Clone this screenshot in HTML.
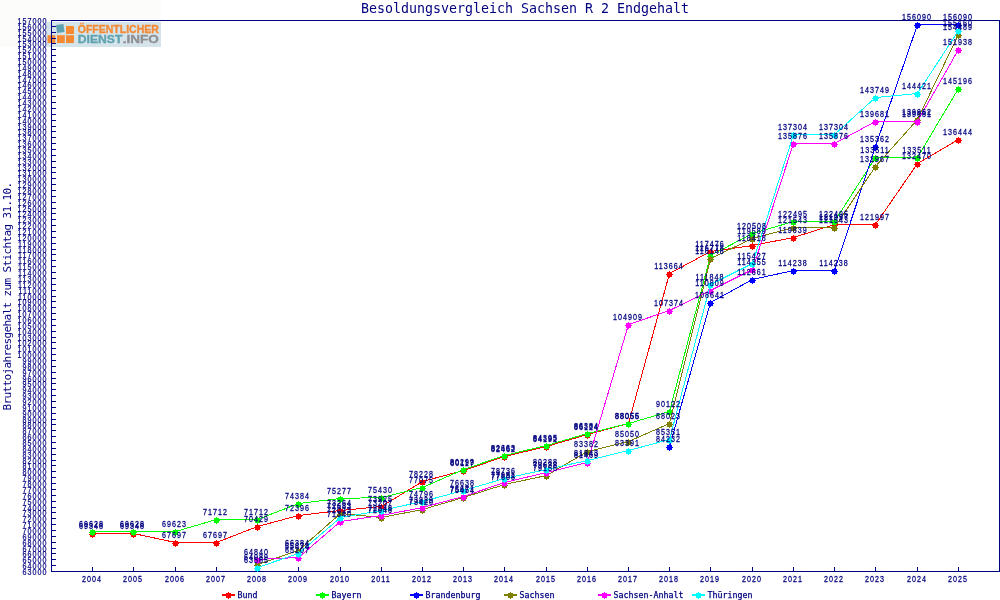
<!DOCTYPE html>
<html lang="de"><head><meta charset="utf-8"><title>Besoldungsvergleich Sachsen R 2 Endgehalt</title>
<style>
html,body{margin:0;padding:0;background:#fff;}
body{width:1000px;height:600px;overflow:hidden;}
svg{display:block;}
text{font-family:"DejaVu Sans Mono","Liberation Mono",monospace;fill:#000080;}
.t{font-family:"Liberation Sans","DejaVu Sans",sans-serif;font-size:8.4px;letter-spacing:1.21px;stroke:#000080;stroke-width:0.2px;}
.ya{text-anchor:end;}
.m{stroke-width:0.26px;}
.lg{font-size:8.3px;stroke:#000080;stroke-width:0.25px;}
.m{text-anchor:middle;}
.title{font-size:13.3px;text-anchor:middle;}
.ytitle{font-size:11px;letter-spacing:-0.62px;text-anchor:middle;}
.logo{font-family:"Liberation Sans","DejaVu Sans",sans-serif;font-weight:bold;font-size:10px;stroke-width:0.3px;}
.ln{fill:none;stroke-width:1;shape-rendering:crispEdges;}
.ax{stroke:#000080;stroke-width:1;shape-rendering:crispEdges;fill:none;}
.mk{shape-rendering:crispEdges;}
</style></head><body>
<svg width="1000" height="600" viewBox="0 0 1000 600">
<defs><g id="mk"><rect x="-2.5" y="-2.5" width="5" height="5"/><rect x="-3.5" y="-0.5" width="7" height="1"/><rect x="-0.5" y="-3.5" width="1" height="7"/></g>
</defs>
<rect x="0" y="0" width="1000" height="600" fill="#ffffff"/>
<text class="title" x="525" y="13">Besoldungsvergleich Sachsen R 2 Endgehalt</text>
<rect x="0" y="0" width="161" height="47" fill="#fcfdfa"/>
<g id="logo">
<rect x="46" y="22" width="115" height="25" fill="#d5e3ea"/>
<rect x="56.5" y="24.5" width="7.5" height="8" fill="#5fa3b0" transform="rotate(-8 60 28.5)"/>
<rect x="66" y="26" width="8" height="8" fill="#f58a33"/>
<rect x="47.5" y="35.2" width="7.8" height="7.8" fill="#f58a33"/>
<rect x="57" y="35.2" width="7.8" height="7.8" fill="#f58a33"/>
<rect x="66" y="35.2" width="8" height="7.8" fill="#f58a33"/>
<text class="logo" x="77.8" y="33.4" textLength="81" lengthAdjust="spacingAndGlyphs" style="fill:#f58a33;stroke:#f58a33">ÖFFENTLICHER</text>
<text class="logo" x="77.8" y="43.1" textLength="44.5" lengthAdjust="spacingAndGlyphs" style="fill:#5fa3b0;stroke:#5fa3b0">DIENST</text>
<text class="logo" x="122.8" y="43.1" textLength="36" lengthAdjust="spacingAndGlyphs" style="fill:#8f9094;stroke:#8f9094">.INFO</text>
</g>
<text class="ytitle" transform="translate(10.9 296.5) rotate(-90)">Bruttojahresgehalt zum Stichtag 31.10.</text>
<path class="ax" d="M51.5 20.5H999.5V571.5H51.5Z"/>
<path class="ax" d="M52 571.5H56M52 565.5H56M52 559.5H56M52 553.5H56M52 548.5H56M52 542.5H56M52 536.5H56M52 530.5H56M52 524.5H56M52 518.5H56M52 512.5H56M52 507.5H56M52 501.5H56M52 495.5H56M52 489.5H56M52 483.5H56M52 477.5H56M52 471.5H56M52 465.5H56M52 460.5H56M52 454.5H56M52 448.5H56M52 442.5H56M52 436.5H56M52 430.5H56M52 424.5H56M52 419.5H56M52 413.5H56M52 407.5H56M52 401.5H56M52 395.5H56M52 389.5H56M52 383.5H56M52 378.5H56M52 372.5H56M52 366.5H56M52 360.5H56M52 354.5H56M52 348.5H56M52 342.5H56M52 337.5H56M52 331.5H56M52 325.5H56M52 319.5H56M52 313.5H56M52 307.5H56M52 301.5H56M52 296.5H56M52 290.5H56M52 284.5H56M52 278.5H56M52 272.5H56M52 266.5H56M52 260.5H56M52 254.5H56M52 249.5H56M52 243.5H56M52 237.5H56M52 231.5H56M52 225.5H56M52 219.5H56M52 213.5H56M52 208.5H56M52 202.5H56M52 196.5H56M52 190.5H56M52 184.5H56M52 178.5H56M52 172.5H56M52 167.5H56M52 161.5H56M52 155.5H56M52 149.5H56M52 143.5H56M52 137.5H56M52 131.5H56M52 126.5H56M52 120.5H56M52 114.5H56M52 108.5H56M52 102.5H56M52 96.5H56M52 90.5H56M52 84.5H56M52 79.5H56M52 73.5H56M52 67.5H56M52 61.5H56M52 55.5H56M52 49.5H56M52 43.5H56M52 38.5H56M52 32.5H56M52 26.5H56M52 20.5H56"/>
<g id="ylabels">
<text class="t ya" transform="translate(47.50 23.5) scale(0.85 1)">157000</text>
<text class="t ya" transform="translate(47.50 29.5) scale(0.85 1)">156000</text>
<text class="t ya" transform="translate(47.50 35.5) scale(0.85 1)">155000</text>
<text class="t ya" transform="translate(47.50 41.5) scale(0.85 1)">154000</text>
<text class="t ya" transform="translate(47.50 46.5) scale(0.85 1)">153000</text>
<text class="t ya" transform="translate(47.50 52.5) scale(0.85 1)">152000</text>
<text class="t ya" transform="translate(47.50 58.5) scale(0.85 1)">151000</text>
<text class="t ya" transform="translate(47.50 64.5) scale(0.85 1)">150000</text>
<text class="t ya" transform="translate(47.50 70.5) scale(0.85 1)">149000</text>
<text class="t ya" transform="translate(47.50 76.5) scale(0.85 1)">148000</text>
<text class="t ya" transform="translate(47.50 82.5) scale(0.85 1)">147000</text>
<text class="t ya" transform="translate(47.50 87.5) scale(0.85 1)">146000</text>
<text class="t ya" transform="translate(47.50 93.5) scale(0.85 1)">145000</text>
<text class="t ya" transform="translate(47.50 99.5) scale(0.85 1)">144000</text>
<text class="t ya" transform="translate(47.50 105.5) scale(0.85 1)">143000</text>
<text class="t ya" transform="translate(47.50 111.5) scale(0.85 1)">142000</text>
<text class="t ya" transform="translate(47.50 117.5) scale(0.85 1)">141000</text>
<text class="t ya" transform="translate(47.50 123.5) scale(0.85 1)">140000</text>
<text class="t ya" transform="translate(47.50 129.5) scale(0.85 1)">139000</text>
<text class="t ya" transform="translate(47.50 134.5) scale(0.85 1)">138000</text>
<text class="t ya" transform="translate(47.50 140.5) scale(0.85 1)">137000</text>
<text class="t ya" transform="translate(47.50 146.5) scale(0.85 1)">136000</text>
<text class="t ya" transform="translate(47.50 152.5) scale(0.85 1)">135000</text>
<text class="t ya" transform="translate(47.50 158.5) scale(0.85 1)">134000</text>
<text class="t ya" transform="translate(47.50 164.5) scale(0.85 1)">133000</text>
<text class="t ya" transform="translate(47.50 170.5) scale(0.85 1)">132000</text>
<text class="t ya" transform="translate(47.50 175.5) scale(0.85 1)">131000</text>
<text class="t ya" transform="translate(47.50 181.5) scale(0.85 1)">130000</text>
<text class="t ya" transform="translate(47.50 187.5) scale(0.85 1)">129000</text>
<text class="t ya" transform="translate(47.50 193.5) scale(0.85 1)">128000</text>
<text class="t ya" transform="translate(47.50 199.5) scale(0.85 1)">127000</text>
<text class="t ya" transform="translate(47.50 205.5) scale(0.85 1)">126000</text>
<text class="t ya" transform="translate(47.50 211.5) scale(0.85 1)">125000</text>
<text class="t ya" transform="translate(47.50 216.5) scale(0.85 1)">124000</text>
<text class="t ya" transform="translate(47.50 222.5) scale(0.85 1)">123000</text>
<text class="t ya" transform="translate(47.50 228.5) scale(0.85 1)">122000</text>
<text class="t ya" transform="translate(47.50 234.5) scale(0.85 1)">121000</text>
<text class="t ya" transform="translate(47.50 240.5) scale(0.85 1)">120000</text>
<text class="t ya" transform="translate(47.50 246.5) scale(0.85 1)">119000</text>
<text class="t ya" transform="translate(47.50 252.5) scale(0.85 1)">118000</text>
<text class="t ya" transform="translate(47.50 257.5) scale(0.85 1)">117000</text>
<text class="t ya" transform="translate(47.50 263.5) scale(0.85 1)">116000</text>
<text class="t ya" transform="translate(47.50 269.5) scale(0.85 1)">115000</text>
<text class="t ya" transform="translate(47.50 275.5) scale(0.85 1)">114000</text>
<text class="t ya" transform="translate(47.50 281.5) scale(0.85 1)">113000</text>
<text class="t ya" transform="translate(47.50 287.5) scale(0.85 1)">112000</text>
<text class="t ya" transform="translate(47.50 293.5) scale(0.85 1)">111000</text>
<text class="t ya" transform="translate(47.50 299.5) scale(0.85 1)">110000</text>
<text class="t ya" transform="translate(47.50 304.5) scale(0.85 1)">109000</text>
<text class="t ya" transform="translate(47.50 310.5) scale(0.85 1)">108000</text>
<text class="t ya" transform="translate(47.50 316.5) scale(0.85 1)">107000</text>
<text class="t ya" transform="translate(47.50 322.5) scale(0.85 1)">106000</text>
<text class="t ya" transform="translate(47.50 328.5) scale(0.85 1)">105000</text>
<text class="t ya" transform="translate(47.50 334.5) scale(0.85 1)">104000</text>
<text class="t ya" transform="translate(47.50 340.5) scale(0.85 1)">103000</text>
<text class="t ya" transform="translate(47.50 345.5) scale(0.85 1)">102000</text>
<text class="t ya" transform="translate(47.50 351.5) scale(0.85 1)">101000</text>
<text class="t ya" transform="translate(47.50 357.5) scale(0.85 1)">100000</text>
<text class="t ya" transform="translate(47.50 363.5) scale(0.85 1)">99000</text>
<text class="t ya" transform="translate(47.50 369.5) scale(0.85 1)">98000</text>
<text class="t ya" transform="translate(47.50 375.5) scale(0.85 1)">97000</text>
<text class="t ya" transform="translate(47.50 381.5) scale(0.85 1)">96000</text>
<text class="t ya" transform="translate(47.50 386.5) scale(0.85 1)">95000</text>
<text class="t ya" transform="translate(47.50 392.5) scale(0.85 1)">94000</text>
<text class="t ya" transform="translate(47.50 398.5) scale(0.85 1)">93000</text>
<text class="t ya" transform="translate(47.50 404.5) scale(0.85 1)">92000</text>
<text class="t ya" transform="translate(47.50 410.5) scale(0.85 1)">91000</text>
<text class="t ya" transform="translate(47.50 416.5) scale(0.85 1)">90000</text>
<text class="t ya" transform="translate(47.50 422.5) scale(0.85 1)">89000</text>
<text class="t ya" transform="translate(47.50 427.5) scale(0.85 1)">88000</text>
<text class="t ya" transform="translate(47.50 433.5) scale(0.85 1)">87000</text>
<text class="t ya" transform="translate(47.50 439.5) scale(0.85 1)">86000</text>
<text class="t ya" transform="translate(47.50 445.5) scale(0.85 1)">85000</text>
<text class="t ya" transform="translate(47.50 451.5) scale(0.85 1)">84000</text>
<text class="t ya" transform="translate(47.50 457.5) scale(0.85 1)">83000</text>
<text class="t ya" transform="translate(47.50 463.5) scale(0.85 1)">82000</text>
<text class="t ya" transform="translate(47.50 468.5) scale(0.85 1)">81000</text>
<text class="t ya" transform="translate(47.50 474.5) scale(0.85 1)">80000</text>
<text class="t ya" transform="translate(47.50 480.5) scale(0.85 1)">79000</text>
<text class="t ya" transform="translate(47.50 486.5) scale(0.85 1)">78000</text>
<text class="t ya" transform="translate(47.50 492.5) scale(0.85 1)">77000</text>
<text class="t ya" transform="translate(47.50 498.5) scale(0.85 1)">76000</text>
<text class="t ya" transform="translate(47.50 504.5) scale(0.85 1)">75000</text>
<text class="t ya" transform="translate(47.50 510.5) scale(0.85 1)">74000</text>
<text class="t ya" transform="translate(47.50 515.5) scale(0.85 1)">73000</text>
<text class="t ya" transform="translate(47.50 521.5) scale(0.85 1)">72000</text>
<text class="t ya" transform="translate(47.50 527.5) scale(0.85 1)">71000</text>
<text class="t ya" transform="translate(47.50 533.5) scale(0.85 1)">70000</text>
<text class="t ya" transform="translate(47.50 539.5) scale(0.85 1)">69000</text>
<text class="t ya" transform="translate(47.50 545.5) scale(0.85 1)">68000</text>
<text class="t ya" transform="translate(47.50 551.5) scale(0.85 1)">67000</text>
<text class="t ya" transform="translate(47.50 556.5) scale(0.85 1)">66000</text>
<text class="t ya" transform="translate(47.50 562.5) scale(0.85 1)">65000</text>
<text class="t ya" transform="translate(47.50 568.5) scale(0.85 1)">64000</text>
<text class="t ya" transform="translate(47.50 574.5) scale(0.85 1)">63000</text>
</g>
<path class="ax" d="M92.5 567V571M133.5 567V571M175.5 567V571M216.5 567V571M257.5 567V571M298.5 567V571M340.5 567V571M381.5 567V571M422.5 567V571M463.5 567V571M504.5 567V571M546.5 567V571M587.5 567V571M628.5 567V571M669.5 567V571M710.5 567V571M752.5 567V571M793.5 567V571M834.5 567V571M875.5 567V571M917.5 567V571M958.5 567V571"/>
<g id="xlabels">
<text class="t m" transform="translate(92.00 582.2) scale(0.85 1)">2004</text>
<text class="t m" transform="translate(133.00 582.2) scale(0.85 1)">2005</text>
<text class="t m" transform="translate(175.00 582.2) scale(0.85 1)">2006</text>
<text class="t m" transform="translate(216.00 582.2) scale(0.85 1)">2007</text>
<text class="t m" transform="translate(257.00 582.2) scale(0.85 1)">2008</text>
<text class="t m" transform="translate(298.00 582.2) scale(0.85 1)">2009</text>
<text class="t m" transform="translate(340.00 582.2) scale(0.85 1)">2010</text>
<text class="t m" transform="translate(381.00 582.2) scale(0.85 1)">2011</text>
<text class="t m" transform="translate(422.00 582.2) scale(0.85 1)">2012</text>
<text class="t m" transform="translate(463.00 582.2) scale(0.85 1)">2013</text>
<text class="t m" transform="translate(504.00 582.2) scale(0.85 1)">2014</text>
<text class="t m" transform="translate(546.00 582.2) scale(0.85 1)">2015</text>
<text class="t m" transform="translate(587.00 582.2) scale(0.85 1)">2016</text>
<text class="t m" transform="translate(628.00 582.2) scale(0.85 1)">2017</text>
<text class="t m" transform="translate(669.00 582.2) scale(0.85 1)">2018</text>
<text class="t m" transform="translate(710.00 582.2) scale(0.85 1)">2019</text>
<text class="t m" transform="translate(752.00 582.2) scale(0.85 1)">2020</text>
<text class="t m" transform="translate(793.00 582.2) scale(0.85 1)">2021</text>
<text class="t m" transform="translate(834.00 582.2) scale(0.85 1)">2022</text>
<text class="t m" transform="translate(875.00 582.2) scale(0.85 1)">2023</text>
<text class="t m" transform="translate(917.00 582.2) scale(0.85 1)">2024</text>
<text class="t m" transform="translate(958.00 582.2) scale(0.85 1)">2025</text>
</g>
<g>
<polyline class="ln" stroke="#ff0000" points="92.5,533.5 133.5,533.5 175.5,542.5 216.5,542.5 257.5,526.5 298.5,515.5 340.5,510.5 381.5,506.5 422.5,481.5 463.5,470.5 504.5,456.5 546.5,446.5 587.5,434.5 628.5,423.5 669.5,273.5 710.5,251.5 752.5,245.5 793.5,237.5 834.5,224.5 875.5,224.5 917.5,163.5 958.5,139.5"/>
<g class="mk" fill="#ff0000">
<use href="#mk" x="92.5" y="534.5"/>
<use href="#mk" x="133.5" y="534.5"/>
<use href="#mk" x="175.5" y="543.5"/>
<use href="#mk" x="216.5" y="543.5"/>
<use href="#mk" x="257.5" y="527.5"/>
<use href="#mk" x="298.5" y="516.5"/>
<use href="#mk" x="340.5" y="511.5"/>
<use href="#mk" x="381.5" y="507.5"/>
<use href="#mk" x="422.5" y="482.5"/>
<use href="#mk" x="463.5" y="471.5"/>
<use href="#mk" x="504.5" y="457.5"/>
<use href="#mk" x="546.5" y="447.5"/>
<use href="#mk" x="587.5" y="435.5"/>
<use href="#mk" x="628.5" y="424.5"/>
<use href="#mk" x="669.5" y="274.5"/>
<use href="#mk" x="710.5" y="252.5"/>
<use href="#mk" x="752.5" y="246.5"/>
<use href="#mk" x="793.5" y="238.5"/>
<use href="#mk" x="834.5" y="225.5"/>
<use href="#mk" x="875.5" y="225.5"/>
<use href="#mk" x="917.5" y="164.5"/>
<use href="#mk" x="958.5" y="140.5"/>
</g></g>
<g>
<polyline class="ln" stroke="#00ff00" points="92.5,531.5 133.5,531.5 175.5,531.5 216.5,519.5 257.5,519.5 298.5,503.5 340.5,498.5 381.5,497.5 422.5,487.5 463.5,469.5 504.5,455.5 546.5,445.5 587.5,433.5 628.5,423.5 669.5,411.5 710.5,255.5 752.5,233.5 793.5,221.5 834.5,221.5 875.5,157.5 917.5,157.5 958.5,88.5"/>
<g class="mk" fill="#00ff00">
<use href="#mk" x="92.5" y="532.5"/>
<use href="#mk" x="133.5" y="532.5"/>
<use href="#mk" x="175.5" y="532.5"/>
<use href="#mk" x="216.5" y="520.5"/>
<use href="#mk" x="257.5" y="520.5"/>
<use href="#mk" x="298.5" y="504.5"/>
<use href="#mk" x="340.5" y="499.5"/>
<use href="#mk" x="381.5" y="498.5"/>
<use href="#mk" x="422.5" y="488.5"/>
<use href="#mk" x="463.5" y="470.5"/>
<use href="#mk" x="504.5" y="456.5"/>
<use href="#mk" x="546.5" y="446.5"/>
<use href="#mk" x="587.5" y="434.5"/>
<use href="#mk" x="628.5" y="424.5"/>
<use href="#mk" x="669.5" y="412.5"/>
<use href="#mk" x="710.5" y="256.5"/>
<use href="#mk" x="752.5" y="234.5"/>
<use href="#mk" x="793.5" y="222.5"/>
<use href="#mk" x="834.5" y="222.5"/>
<use href="#mk" x="875.5" y="158.5"/>
<use href="#mk" x="917.5" y="158.5"/>
<use href="#mk" x="958.5" y="89.5"/>
</g></g>
<g>
<polyline class="ln" stroke="#0000ff" points="669.5,446.5 710.5,302.5 752.5,279.5 793.5,270.5 834.5,270.5 875.5,146.5 917.5,24.5 958.5,24.5"/>
<g class="mk" fill="#0000ff">
<use href="#mk" x="669.5" y="447.5"/>
<use href="#mk" x="710.5" y="303.5"/>
<use href="#mk" x="752.5" y="280.5"/>
<use href="#mk" x="793.5" y="271.5"/>
<use href="#mk" x="834.5" y="271.5"/>
<use href="#mk" x="875.5" y="147.5"/>
<use href="#mk" x="917.5" y="25.5"/>
<use href="#mk" x="958.5" y="25.5"/>
</g></g>
<g>
<polyline class="ln" stroke="#808000" points="257.5,564.5 298.5,550.5 340.5,513.5 381.5,517.5 422.5,509.5 463.5,497.5 504.5,484.5 546.5,475.5 587.5,451.5 628.5,441.5 669.5,423.5 710.5,258.5 752.5,238.5 793.5,227.5 834.5,227.5 875.5,166.5 917.5,119.5 958.5,34.5"/>
<g class="mk" fill="#808000">
<use href="#mk" x="257.5" y="565.5"/>
<use href="#mk" x="298.5" y="551.5"/>
<use href="#mk" x="340.5" y="514.5"/>
<use href="#mk" x="381.5" y="518.5"/>
<use href="#mk" x="422.5" y="510.5"/>
<use href="#mk" x="463.5" y="498.5"/>
<use href="#mk" x="504.5" y="485.5"/>
<use href="#mk" x="546.5" y="476.5"/>
<use href="#mk" x="587.5" y="452.5"/>
<use href="#mk" x="628.5" y="442.5"/>
<use href="#mk" x="669.5" y="424.5"/>
<use href="#mk" x="710.5" y="259.5"/>
<use href="#mk" x="752.5" y="239.5"/>
<use href="#mk" x="793.5" y="228.5"/>
<use href="#mk" x="834.5" y="228.5"/>
<use href="#mk" x="875.5" y="167.5"/>
<use href="#mk" x="917.5" y="120.5"/>
<use href="#mk" x="958.5" y="35.5"/>
</g></g>
<g>
<polyline class="ln" stroke="#ff00ff" points="257.5,559.5 298.5,557.5 340.5,521.5 381.5,515.5 422.5,507.5 463.5,496.5 504.5,482.5 546.5,472.5 587.5,462.5 628.5,324.5 669.5,310.5 710.5,290.5 752.5,269.5 793.5,143.5 834.5,143.5 875.5,121.5 917.5,121.5 958.5,49.5"/>
<g class="mk" fill="#ff00ff">
<use href="#mk" x="257.5" y="560.5"/>
<use href="#mk" x="298.5" y="558.5"/>
<use href="#mk" x="340.5" y="522.5"/>
<use href="#mk" x="381.5" y="516.5"/>
<use href="#mk" x="422.5" y="508.5"/>
<use href="#mk" x="463.5" y="497.5"/>
<use href="#mk" x="504.5" y="483.5"/>
<use href="#mk" x="546.5" y="473.5"/>
<use href="#mk" x="587.5" y="463.5"/>
<use href="#mk" x="628.5" y="325.5"/>
<use href="#mk" x="669.5" y="311.5"/>
<use href="#mk" x="710.5" y="291.5"/>
<use href="#mk" x="752.5" y="270.5"/>
<use href="#mk" x="793.5" y="144.5"/>
<use href="#mk" x="834.5" y="144.5"/>
<use href="#mk" x="875.5" y="122.5"/>
<use href="#mk" x="917.5" y="122.5"/>
<use href="#mk" x="958.5" y="50.5"/>
</g></g>
<g>
<polyline class="ln" stroke="#00ffff" points="257.5,567.5 298.5,553.5 340.5,517.5 381.5,510.5 422.5,501.5 463.5,490.5 504.5,478.5 546.5,469.5 587.5,460.5 628.5,450.5 669.5,439.5 710.5,284.5 752.5,263.5 793.5,134.5 834.5,134.5 875.5,97.5 917.5,93.5 958.5,30.5"/>
<g class="mk" fill="#00ffff">
<use href="#mk" x="257.5" y="568.5"/>
<use href="#mk" x="298.5" y="554.5"/>
<use href="#mk" x="340.5" y="518.5"/>
<use href="#mk" x="381.5" y="511.5"/>
<use href="#mk" x="422.5" y="502.5"/>
<use href="#mk" x="463.5" y="491.5"/>
<use href="#mk" x="504.5" y="479.5"/>
<use href="#mk" x="546.5" y="470.5"/>
<use href="#mk" x="587.5" y="461.5"/>
<use href="#mk" x="628.5" y="451.5"/>
<use href="#mk" x="669.5" y="440.5"/>
<use href="#mk" x="710.5" y="285.5"/>
<use href="#mk" x="752.5" y="264.5"/>
<use href="#mk" x="793.5" y="135.5"/>
<use href="#mk" x="834.5" y="135.5"/>
<use href="#mk" x="875.5" y="98.5"/>
<use href="#mk" x="917.5" y="94.5"/>
<use href="#mk" x="958.5" y="31.5"/>
</g></g>
<g id="values">
<text class="t m" transform="translate(91.50 529.0) scale(0.85 1)">69348</text>
<text class="t m" transform="translate(132.50 529.0) scale(0.85 1)">69348</text>
<text class="t m" transform="translate(174.50 538.0) scale(0.85 1)">67697</text>
<text class="t m" transform="translate(215.50 538.0) scale(0.85 1)">67697</text>
<text class="t m" transform="translate(256.50 522.0) scale(0.85 1)">70429</text>
<text class="t m" transform="translate(297.50 511.0) scale(0.85 1)">72396</text>
<text class="t m" transform="translate(339.50 506.0) scale(0.85 1)">73264</text>
<text class="t m" transform="translate(380.50 502.0) scale(0.85 1)">73925</text>
<text class="t m" transform="translate(421.50 477.0) scale(0.85 1)">78228</text>
<text class="t m" transform="translate(462.50 466.0) scale(0.85 1)">80117</text>
<text class="t m" transform="translate(503.50 452.0) scale(0.85 1)">82462</text>
<text class="t m" transform="translate(545.50 442.0) scale(0.85 1)">84192</text>
<text class="t m" transform="translate(586.50 430.0) scale(0.85 1)">86124</text>
<text class="t m" transform="translate(627.50 419.0) scale(0.85 1)">88055</text>
<text class="t m" transform="translate(669.00 269.0) scale(0.85 1)">113664</text>
<text class="t m" transform="translate(710.00 247.0) scale(0.85 1)">117476</text>
<text class="t m" transform="translate(752.00 241.0) scale(0.85 1)">118418</text>
<text class="t m" transform="translate(793.00 233.0) scale(0.85 1)">119839</text>
<text class="t m" transform="translate(834.00 220.0) scale(0.85 1)">121997</text>
<text class="t m" transform="translate(875.00 220.0) scale(0.85 1)">121997</text>
<text class="t m" transform="translate(917.00 159.0) scale(0.85 1)">132470</text>
<text class="t m" transform="translate(958.00 135.0) scale(0.85 1)">136444</text>
<text class="t m" transform="translate(91.50 527.0) scale(0.85 1)">69628</text>
<text class="t m" transform="translate(132.50 527.0) scale(0.85 1)">69628</text>
<text class="t m" transform="translate(174.50 527.0) scale(0.85 1)">69623</text>
<text class="t m" transform="translate(215.50 515.0) scale(0.85 1)">71712</text>
<text class="t m" transform="translate(256.50 515.0) scale(0.85 1)">71712</text>
<text class="t m" transform="translate(297.50 499.0) scale(0.85 1)">74384</text>
<text class="t m" transform="translate(339.50 494.0) scale(0.85 1)">75277</text>
<text class="t m" transform="translate(380.50 493.0) scale(0.85 1)">75430</text>
<text class="t m" transform="translate(421.50 483.0) scale(0.85 1)">77075</text>
<text class="t m" transform="translate(462.50 465.0) scale(0.85 1)">80299</text>
<text class="t m" transform="translate(503.50 451.0) scale(0.85 1)">82663</text>
<text class="t m" transform="translate(545.50 441.0) scale(0.85 1)">84395</text>
<text class="t m" transform="translate(586.50 429.0) scale(0.85 1)">86384</text>
<text class="t m" transform="translate(627.50 419.0) scale(0.85 1)">88056</text>
<text class="t m" transform="translate(668.50 407.0) scale(0.85 1)">90122</text>
<text class="t m" transform="translate(710.00 251.0) scale(0.85 1)">116778</text>
<text class="t m" transform="translate(752.00 229.0) scale(0.85 1)">120508</text>
<text class="t m" transform="translate(793.00 217.0) scale(0.85 1)">122495</text>
<text class="t m" transform="translate(834.00 217.0) scale(0.85 1)">122495</text>
<text class="t m" transform="translate(875.00 153.0) scale(0.85 1)">133511</text>
<text class="t m" transform="translate(917.00 153.0) scale(0.85 1)">133511</text>
<text class="t m" transform="translate(958.00 84.0) scale(0.85 1)">145196</text>
<text class="t m" transform="translate(668.50 442.0) scale(0.85 1)">84232</text>
<text class="t m" transform="translate(710.00 298.0) scale(0.85 1)">108641</text>
<text class="t m" transform="translate(752.00 275.0) scale(0.85 1)">112661</text>
<text class="t m" transform="translate(793.00 266.0) scale(0.85 1)">114238</text>
<text class="t m" transform="translate(834.00 266.0) scale(0.85 1)">114238</text>
<text class="t m" transform="translate(875.00 142.0) scale(0.85 1)">135362</text>
<text class="t m" transform="translate(917.00 20.0) scale(0.85 1)">156090</text>
<text class="t m" transform="translate(958.00 20.0) scale(0.85 1)">156090</text>
<text class="t m" transform="translate(256.50 560.0) scale(0.85 1)">64089</text>
<text class="t m" transform="translate(297.50 546.0) scale(0.85 1)">66384</text>
<text class="t m" transform="translate(339.50 509.0) scale(0.85 1)">72683</text>
<text class="t m" transform="translate(380.50 513.0) scale(0.85 1)">72048</text>
<text class="t m" transform="translate(421.50 505.0) scale(0.85 1)">73420</text>
<text class="t m" transform="translate(462.50 493.0) scale(0.85 1)">75454</text>
<text class="t m" transform="translate(503.50 480.0) scale(0.85 1)">77608</text>
<text class="t m" transform="translate(545.50 471.0) scale(0.85 1)">79156</text>
<text class="t m" transform="translate(586.50 447.0) scale(0.85 1)">83382</text>
<text class="t m" transform="translate(627.50 437.0) scale(0.85 1)">85050</text>
<text class="t m" transform="translate(668.50 419.0) scale(0.85 1)">88023</text>
<text class="t m" transform="translate(710.00 254.0) scale(0.85 1)">116148</text>
<text class="t m" transform="translate(752.00 234.0) scale(0.85 1)">119589</text>
<text class="t m" transform="translate(793.00 223.0) scale(0.85 1)">121543</text>
<text class="t m" transform="translate(834.00 223.0) scale(0.85 1)">121543</text>
<text class="t m" transform="translate(875.00 162.0) scale(0.85 1)">131967</text>
<text class="t m" transform="translate(917.00 115.0) scale(0.85 1)">139962</text>
<text class="t m" transform="translate(958.00 30.0) scale(0.85 1)">154489</text>
<text class="t m" transform="translate(256.50 555.0) scale(0.85 1)">64840</text>
<text class="t m" transform="translate(297.50 553.0) scale(0.85 1)">65207</text>
<text class="t m" transform="translate(339.50 517.0) scale(0.85 1)">71340</text>
<text class="t m" transform="translate(380.50 511.0) scale(0.85 1)">72348</text>
<text class="t m" transform="translate(421.50 503.0) scale(0.85 1)">73829</text>
<text class="t m" transform="translate(462.50 492.0) scale(0.85 1)">75671</text>
<text class="t m" transform="translate(503.50 478.0) scale(0.85 1)">77991</text>
<text class="t m" transform="translate(545.50 468.0) scale(0.85 1)">79638</text>
<text class="t m" transform="translate(586.50 458.0) scale(0.85 1)">81469</text>
<text class="t m" transform="translate(628.00 320.0) scale(0.85 1)">104909</text>
<text class="t m" transform="translate(669.00 306.0) scale(0.85 1)">107374</text>
<text class="t m" transform="translate(710.00 286.0) scale(0.85 1)">110809</text>
<text class="t m" transform="translate(752.00 265.0) scale(0.85 1)">114355</text>
<text class="t m" transform="translate(793.00 139.0) scale(0.85 1)">135876</text>
<text class="t m" transform="translate(834.00 139.0) scale(0.85 1)">135876</text>
<text class="t m" transform="translate(875.00 117.0) scale(0.85 1)">139681</text>
<text class="t m" transform="translate(917.00 117.0) scale(0.85 1)">139681</text>
<text class="t m" transform="translate(958.00 45.0) scale(0.85 1)">151938</text>
<text class="t m" transform="translate(256.50 563.0) scale(0.85 1)">63565</text>
<text class="t m" transform="translate(297.50 549.0) scale(0.85 1)">65878</text>
<text class="t m" transform="translate(339.50 513.0) scale(0.85 1)">72023</text>
<text class="t m" transform="translate(380.50 506.0) scale(0.85 1)">73207</text>
<text class="t m" transform="translate(421.50 497.0) scale(0.85 1)">74796</text>
<text class="t m" transform="translate(462.50 486.0) scale(0.85 1)">76638</text>
<text class="t m" transform="translate(503.50 474.0) scale(0.85 1)">78736</text>
<text class="t m" transform="translate(545.50 465.0) scale(0.85 1)">80288</text>
<text class="t m" transform="translate(586.50 456.0) scale(0.85 1)">81843</text>
<text class="t m" transform="translate(627.50 446.0) scale(0.85 1)">83391</text>
<text class="t m" transform="translate(668.50 435.0) scale(0.85 1)">85351</text>
<text class="t m" transform="translate(710.00 280.0) scale(0.85 1)">111848</text>
<text class="t m" transform="translate(752.00 259.0) scale(0.85 1)">115427</text>
<text class="t m" transform="translate(793.00 130.0) scale(0.85 1)">137304</text>
<text class="t m" transform="translate(834.00 130.0) scale(0.85 1)">137304</text>
<text class="t m" transform="translate(875.00 93.0) scale(0.85 1)">143749</text>
<text class="t m" transform="translate(917.00 89.0) scale(0.85 1)">144421</text>
<text class="t m" transform="translate(958.00 26.0) scale(0.85 1)">155160</text>
</g>
<g id="legend">
<rect class="mk" x="222" y="594" width="13" height="2" fill="#ff0000"/>
<use class="mk" href="#mk" x="228.5" y="595.5" fill="#ff0000"/>
<text class="lg" x="237.5" y="598">Bund</text>
<rect class="mk" x="316" y="594" width="13" height="2" fill="#00ff00"/>
<use class="mk" href="#mk" x="322.5" y="595.5" fill="#00ff00"/>
<text class="lg" x="331.5" y="598">Bayern</text>
<rect class="mk" x="410" y="594" width="13" height="2" fill="#0000ff"/>
<use class="mk" href="#mk" x="416.5" y="595.5" fill="#0000ff"/>
<text class="lg" x="425.5" y="598">Brandenburg</text>
<rect class="mk" x="504" y="594" width="13" height="2" fill="#808000"/>
<use class="mk" href="#mk" x="510.5" y="595.5" fill="#808000"/>
<text class="lg" x="519.5" y="598">Sachsen</text>
<rect class="mk" x="598" y="594" width="13" height="2" fill="#ff00ff"/>
<use class="mk" href="#mk" x="604.5" y="595.5" fill="#ff00ff"/>
<text class="lg" x="613.5" y="598">Sachsen-Anhalt</text>
<rect class="mk" x="692" y="594" width="13" height="2" fill="#00ffff"/>
<use class="mk" href="#mk" x="698.5" y="595.5" fill="#00ffff"/>
<text class="lg" x="707.5" y="598">Thüringen</text>
</g>
</svg></body></html>
